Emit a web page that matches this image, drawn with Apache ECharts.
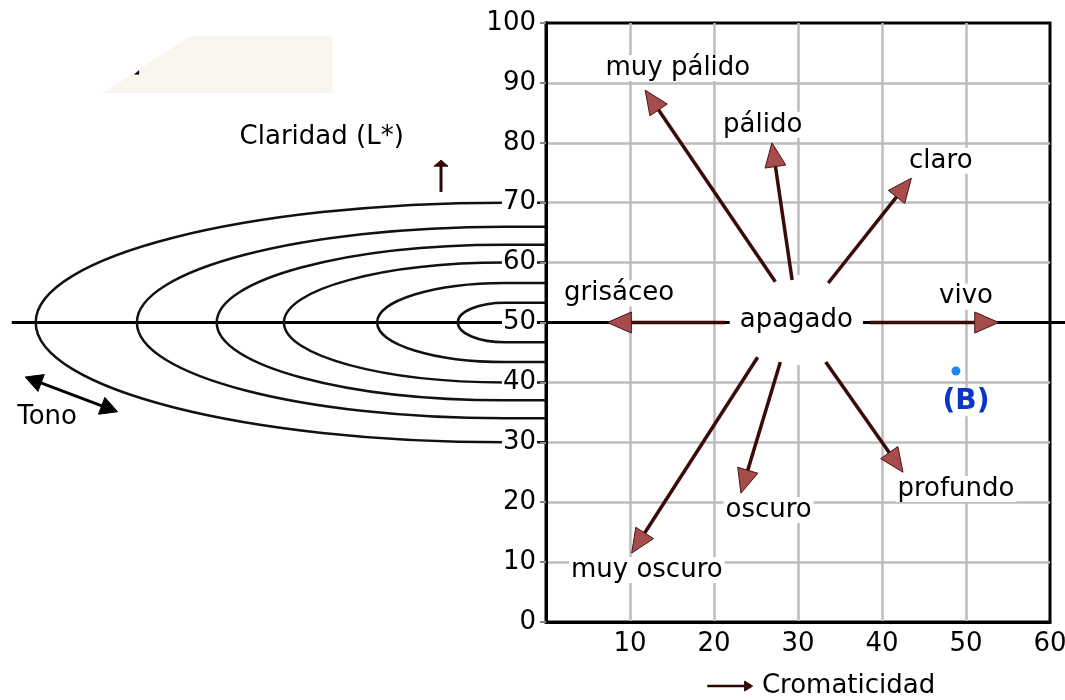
<!DOCTYPE html>
<html><head><meta charset="utf-8">
<script src="https://cdn.jsdelivr.net/npm/echarts@6/dist/echarts.min.js"></script>
<style>html,body{margin:0;padding:0;background:#fff}#c{width:1065px;height:700px}</style>
</head><body><div id="c"></div>
<script>
// ---- data ----
const xTickLabels = ['', '10', '20', '30', '40', '50', '60'];
const yTickLabels = ['0','10','20','30','40','50','60','70','80','90','100'];
// lightness rings (left diagram): leftmost chroma, top L*, bottom L*
const ringLeft = [-60.75, -48.7, -39.2, -31.2, -20.1, -10.5];
const ringTop = [70, 66, 63, 60, 56.6, 53.3];
const ringBottom = [30, 34, 37, 40, 43.4, 46.7];
const ringCenterX = -4.9;
const midLine = [[-63.6, 50], [61.8, 50]];
// tone arrows
const arrowFrom = [[27.3,56.8],[29.3,57.1],[33.6,56.6],[21.3,50],[38.6,50],[25.2,44.2],[27.9,43.4],[33.3,43.4]];
const arrowTo = [[11.8,88.8],[26.9,80.0],[43.5,74.1],[7.3,50],[53.9,50],[10.2,11.5],[23.2,21.5],[42.5,25.0]];
// tone names
const termNames = ['muy pálido','pálido','claro','grisáceo','apagado','vivo','oscuro','profundo','muy oscuro'];
const termPos = [[15.7,92.5],[25.8,83.0],[47.0,77.0],[8.7,54.9],[29.8,50.4],[50.0,54.3],[26.5,18.7],[48.8,22.2],[12.0,8.7]];
// sample point B
const samplePoint = [48.8, 41.9];
const sampleLabel = '(B)';
const sampleLabelPos = [50.0, 36.7];
// left-diagram annotations
const lightnessLabel = 'Claridad (L*)';
const lightnessLabelPos = [-26.7, 81.0];
const lightnessArrow = [[-12.5, 71.8], [-12.5, 77.1]];
const hueLabel = 'Tono';
const hueLabelPos = [-59.4, 34.2];
const hueArrow = [[-62.0, 40.9], [-51.0, 35.1]];
const chromaLabel = 'Cromaticidad';
const chromaLabelPos = [25.7, -10.7];
const chromaArrow = [[19.2, -10.7], [24.6, -10.7]];
const patchPoly = [[-42.4, 97.8], [-25.4, 97.8], [-25.4, 88.3], [-52.7, 88.3]];
const patchMark = [-48.6, 91.8];

// ---- helpers ----
const FONT = '26px "DejaVu Sans"';
function arrowShape(p0, p1, hl, hw, lineColor, lw, headFill, headStroke, both) {
  const dx = p1[0]-p0[0], dy = p1[1]-p0[1];
  const len = Math.hypot(dx, dy), ux = dx/len, uy = dy/len, nx = -uy, ny = ux;
  const bx = p1[0]-ux*hl, by = p1[1]-uy*hl;
  const children = [];
  let s0 = p0;
  if (both) s0 = [p0[0]+ux*(hl-3), p0[1]+uy*(hl-3)];
  children.push({type:'line', shape:{x1:s0[0], y1:s0[1], x2:bx+ux*3, y2:by+uy*3},
    style:{stroke:lineColor, lineWidth:lw}});
  children.push({type:'polygon', shape:{points:[[p1[0],p1[1]],[bx+nx*hw,by+ny*hw],[bx-nx*hw,by-ny*hw]]},
    style:{fill:headFill, stroke:headStroke, lineWidth:1}});
  if (both) {
    const cx = p0[0]+ux*hl, cy = p0[1]+uy*hl;
    children.push({type:'polygon', shape:{points:[[p0[0],p0[1]],[cx+nx*hw,cy+ny*hw],[cx-nx*hw,cy-ny*hw]]},
      style:{fill:headFill, stroke:headStroke, lineWidth:1}});
  }
  return {type:'group', children};
}
function textEl(p, text, opts) {
  return {type:'text', x:p[0], y:p[1], style:Object.assign({text, font:FONT, fill:'#000',
    align:'center', verticalAlign:'middle'}, opts||{})};
}

const chart = echarts.init(document.getElementById('c'), null, {renderer:'canvas'});
const option = {
  animation: false,
  backgroundColor: '#fff',
  grid: [
    {left: 546, right: 15, top: 23, bottom: 78, outerBoundsMode: 'none', containLabel: false,
     show: true, borderColor: '#000', borderWidth: 3, backgroundColor: 'transparent'},
    {left: 0, width: 546, top: 23, bottom: 78, outerBoundsMode: 'none', containLabel: false}
  ],
  xAxis: [
    {type:'value', gridIndex:0, min:0, max:60, interval:10,
     axisLine:{show:true, lineStyle:{color:'#000', width:3}}, axisTick:{show:false},
     axisLabel:{margin:9, fontSize:26, fontFamily:'DejaVu Sans', color:'#000', formatter:(v)=>xTickLabels[Math.round(v/10)]},
     splitLine:{show:true, showMinLine:false, showMaxLine:false, lineStyle:{color:'#bdbdbd', width:2.5}}},
    {type:'value', gridIndex:1, min:-65, max:0, show:false}
  ],
  yAxis: [
    {type:'value', gridIndex:0, min:0, max:100, interval:10,
     axisLine:{show:true, lineStyle:{color:'#000', width:3}}, axisTick:{show:false}, axisLabel:{show:false},
     splitLine:{show:true, showMinLine:false, showMaxLine:false, lineStyle:{color:'#bdbdbd', width:2.5}}},
    {type:'value', gridIndex:1, min:0, max:100, interval:10, position:'right', z:6,
     axisLine:{show:true, onZero:false, lineStyle:{color:'#000', width:3}},
     axisTick:{show:true, inside:true, length:6, lineStyle:{color:'#8a8a8a', width:2}},
     axisLabel:{inside:true, margin:9, fontSize:26, fontFamily:'DejaVu Sans', color:'#000', backgroundColor:'#fff', padding:[0,1],
       formatter:(v)=>yTickLabels[Math.round(v/10)]},
     splitLine:{show:false}}
  ],
  series: [
    // beige patch (left diagram)
    {type:'custom', xAxisIndex:1, yAxisIndex:1, z:1, data:[[0]],
     renderItem:(params, api) => {
       const pts = patchPoly.map(p => api.coord(p));
       const m = api.coord(patchMark);
       return {type:'group', children:[
         {type:'polygon', shape:{points:pts}, style:{fill:'#f7f5ee', stroke:null}},
         {type:'polygon', shape:{points:[[m[0]-5,m[1]+3],[m[0]+2,m[1]+3],[m[0]+2,m[1]-3]]}, style:{fill:'#000', stroke:'#fff', lineWidth:1}}
       ]};
     }},
    // horizontal L*=50 line
    {type:'custom', xAxisIndex:1, yAxisIndex:1, z:3, data:[[0]],
     renderItem:(params, api) => {
       const a = api.coord(midLine[0]), b = api.coord(midLine[1]);
       return {type:'line', shape:{x1:a[0], y1:a[1], x2:b[0], y2:b[1]}, style:{stroke:'#000', lineWidth:3}};
     }},
    // lightness rings
    {type:'custom', xAxisIndex:1, yAxisIndex:1, z:3,
     data: ringLeft.map((l, i) => [l, ringTop[i], ringBottom[i]]),
     renderItem:(params, api) => {
       const L = api.coord([api.value(0), 50]);
       const T = api.coord([ringCenterX, api.value(1)]);
       const B = api.coord([ringCenterX, api.value(2)]);
       const TA = api.coord([0, api.value(1)]);
       const BA = api.coord([0, api.value(2)]);
       const k = 0.5523, a = T[0]-L[0], bt = L[1]-T[1], bb = B[1]-L[1];
       const d = `M${TA[0]} ${T[1]} L${T[0]} ${T[1]} C${T[0]-k*a} ${T[1]} ${L[0]} ${L[1]-k*bt} ${L[0]} ${L[1]} ` +
                 `C${L[0]} ${L[1]+k*bb} ${B[0]-k*a} ${B[1]} ${B[0]} ${B[1]} L${BA[0]} ${B[1]}`;
       return {type:'path', shape:{pathData:d}, style:{fill:'none', stroke:'#111', lineWidth:2.5}};
     }},
    // left annotations
    {type:'custom', xAxisIndex:1, yAxisIndex:1, z:4, data:[[0]],
     renderItem:(params, api) => ({type:'group', children:[
       textEl(api.coord(lightnessLabelPos), lightnessLabel),
       textEl(api.coord(hueLabelPos), hueLabel),
       arrowShape(api.coord(lightnessArrow[0]), api.coord(lightnessArrow[1]), 6, 7, '#2a0808', 3, '#3a0a0a', '#2a0808', false),
       arrowShape(api.coord(hueArrow[0]), api.coord(hueArrow[1]), 17, 9, '#000', 3, '#000', '#000', true)
     ]})},
    // tone labels
    {type:'custom', xAxisIndex:0, yAxisIndex:0, z:4, data: termPos,
     renderItem:(params, api) => {
       const name = termNames[params.dataIndex];
       const p = api.coord([api.value(0), api.value(1)]);
       const pad = name === 'apagado' ? [36, 10, 28, 10] : [0, 2];
       return textEl(p, name, {backgroundColor:'#fff', padding:pad});
     }},
    // tone arrows
    {type:'custom', xAxisIndex:0, yAxisIndex:0, z:5,
     data: arrowFrom.map((f, i) => [f[0], f[1], arrowTo[i][0], arrowTo[i][1]]),
     encode:{x:[0,2], y:[1,3]},
     renderItem:(params, api) => arrowShape(api.coord([api.value(0), api.value(1)]), api.coord([api.value(2), api.value(3)]),
        24, 10.5, '#3b0b0b', 3.5, '#a64c4c', '#4a1414', false)},
    // sample B
    {type:'custom', xAxisIndex:0, yAxisIndex:0, z:5, data:[samplePoint],
     renderItem:(params, api) => {
       const p = api.coord([api.value(0), api.value(1)]);
       return {type:'group', children:[
         {type:'circle', shape:{cx:p[0], cy:p[1], r:4.5}, style:{fill:'#1e88f0'}},
         textEl(api.coord(sampleLabelPos), sampleLabel, {font:'bold 28px "DejaVu Sans"', fill:'#0a35cc', backgroundColor:'#fff', padding:[0,4]})
       ]};
     }},
    // chroma axis caption
    {type:'custom', xAxisIndex:0, yAxisIndex:0, z:5, data:[[0]],
     renderItem:(params, api) => ({type:'group', children:[
       arrowShape(api.coord(chromaArrow[0]), api.coord(chromaArrow[1]), 8, 5, '#2a0808', 2.5, '#3a0a0a', '#2a0808', false),
       textEl(api.coord(chromaLabelPos), chromaLabel, {align:'left'})
     ]})}
  ]
};
chart.setOption(option);
</script></body></html>
